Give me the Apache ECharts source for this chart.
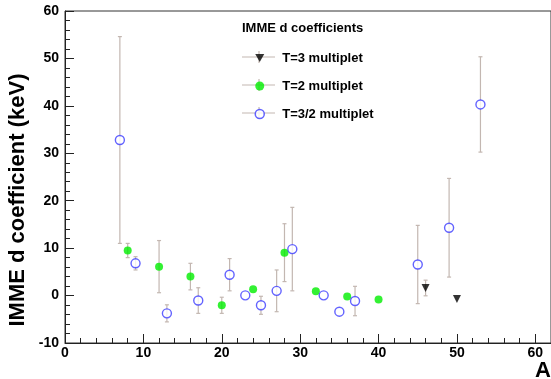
<!DOCTYPE html>
<html>
<head>
<meta charset="utf-8">
<script src="https://cdn.jsdelivr.net/npm/echarts@6/dist/echarts.min.js"></script>
<style>html,body{margin:0;padding:0;background:#fff}#c{width:551px;height:379px}</style>
</head>
<body>
<div id="c"></div>
<script>
// T=3 multiplet
var t3A = [46, 50];
var t3D = [1.6, -0.7];
var t3E = [1.65, 0];
// T=2 multiplet
var t2A = [8, 12, 16, 20, 24, 28, 32, 36, 40];
var t2D = [9.5, 6.1, 4.0, -2.05, 1.35, 9.05, 0.9, -0.2, -0.85];
var t2E = [1.5, 5.5, 2.8, 1.7, 0, 6.1, 0, 0, 0];
// T=3/2 multiplet
var t32A = [7, 9, 13, 17, 21, 23, 25, 27, 29, 33, 35, 37, 45, 49, 53];
var t32D = [32.8, 6.8, -3.75, -1.05, 4.4, 0.05, -2.05, 1.0, 9.8, 0.05, -3.4, -1.15, 6.55, 14.3, 40.3];
var t32E = [21.8, 1.4, 1.8, 2.7, 3.4, 0, 1.9, 4.4, 8.8, 0, 0, 3.1, 8.25, 10.4, 10.05];

var xMajorTicks = [0, 10, 20, 30, 40, 50, 60];
var xMinorTicks = [2, 4, 6, 8, 12, 14, 16, 18, 22, 24, 26, 28, 32, 34, 36, 38, 42, 44, 46, 48, 52, 54, 56, 58, 62];
var seriesNames = ['T=3 multiplet', 'T=2 multiplet', 'T=3/2 multiplet'];

function pts(a, d) { return a.map(function (x, i) { return [x, d[i]]; }); }
function errs(a, d, e) { return a.map(function (x, i) { return [x, d[i], e[i]]; }); }

var ERR = '#c3b7b1';
var FONT = 'Liberation Sans';

function errRender(params, api) {
  var x = api.value(0), y = api.value(1), e = api.value(2);
  if (!(e > 0)) return null;
  var t = api.coord([x, y + e]), b = api.coord([x, y - e]);
  var st = { stroke: ERR, lineWidth: 1.2 };
  return {
    type: 'group',
    children: [
      { type: 'line', shape: { x1: t[0], y1: t[1], x2: b[0], y2: b[1] }, style: st },
      { type: 'line', shape: { x1: t[0] - 2, y1: t[1], x2: t[0] + 2, y2: t[1] }, style: st },
      { type: 'line', shape: { x1: b[0] - 2, y1: b[1], x2: b[0] + 2, y2: b[1] }, style: st }
    ]
  };
}

var allErr = errs(t3A, t3D, t3E).concat(errs(t2A, t2D, t2E), errs(t32A, t32D, t32E));

var legendRows = [57, 85, 113];
var legendGraphics = [];
legendRows.forEach(function (y) {
  legendGraphics.push({ type: 'line', shape: { x1: 242, y1: y, x2: 275, y2: y }, style: { stroke: ERR, lineWidth: 1.2 }, z: 0 });
  legendGraphics.push({ type: 'line', shape: { x1: 259, y1: y - 6, x2: 259, y2: y + 6 }, style: { stroke: ERR, lineWidth: 1.2 }, z: 0 });
});

var chart = echarts.init(document.getElementById('c'));
chart.setOption({
  animation: false,
  backgroundColor: '#fff',
  grid: { left: 65, top: 11, width: 487, height: 332, show: true, borderColor: '#333', borderWidth: 1, backgroundColor: 'transparent' },
  xAxis: [{
    type: 'value', min: 0, max: 62, interval: 10, position: 'bottom',
    axisLine: { onZero: false, lineStyle: { color: '#222', width: 1 } },
    axisTick: { inside: true, length: 9, customValues: xMajorTicks, lineStyle: { color: '#222' } },
    axisLabel: { customValues: xMajorTicks, color: '#000', fontFamily: FONT, fontWeight: 'bold', fontSize: 14, margin: 3 },
    splitLine: { show: false }
  }, {
    type: 'value', min: 0, max: 62, position: 'bottom', gridIndex: 0,
    axisLine: { show: false, onZero: false },
    axisTick: { inside: true, length: 5, customValues: xMinorTicks, lineStyle: { color: '#222' } },
    axisLabel: { show: false },
    splitLine: { show: false }
  }],
  yAxis: {
    type: 'value', min: -10, max: 60, interval: 10,
    axisLine: { show: true, onZero: false, lineStyle: { color: '#222', width: 1 } },
    axisTick: { show: true, inside: true, length: 9, lineStyle: { color: '#222' } },
    minorTick: { show: true, splitNumber: 5, length: 5, lineStyle: { color: '#222' } },
    axisLabel: { color: '#000', fontFamily: FONT, fontWeight: 'bold', fontSize: 14, margin: 6 },
    splitLine: { show: false }
  },
  legend: {
    orient: 'vertical', left: 249.5, top: 46, itemWidth: 9, itemHeight: 9, itemGap: 14,
    textStyle: { fontFamily: FONT, fontWeight: 'bold', fontSize: 13, color: '#000', lineHeight: 14, padding: [0, 0, 0, 13] },
    data: [
      { name: seriesNames[0], icon: 'path://M0,0 L10,0 L5,9 Z', itemStyle: { color: '#000' } },
      { name: seriesNames[1], icon: 'circle', itemStyle: { color: '#00ee00' } },
      { name: seriesNames[2], icon: 'circle', itemStyle: { color: '#fff', borderColor: '#3c3cff', borderWidth: 1.5 } }
    ]
  },
  graphic: [
    { type: 'text', left: 242, top: 22, style: { text: 'IMME d coefficients', font: 'bold 13px "Liberation Sans"', fill: '#000' } },
    { type: 'text', x: 18, y: 200, rotation: Math.PI / 2, style: { text: 'IMME d coefficient (keV)', font: 'bold 22px "Liberation Sans"', fill: '#000', align: 'center', verticalAlign: 'middle' } },
    { type: 'text', x: 543, y: 371, style: { text: 'A', font: 'bold 22px "Liberation Sans"', fill: '#000', align: 'center', verticalAlign: 'middle' } }
  ].concat(legendGraphics),
  series: [
    { type: 'custom', name: 'errors', renderItem: errRender, data: allErr, z: 1, silent: true },
    { type: 'scatter', name: seriesNames[0], data: pts(t3A, t3D), symbol: 'triangle', symbolRotate: 180, symbolSize: 8, itemStyle: { color: '#000' }, z: 3 },
    { type: 'scatter', name: seriesNames[1], data: pts(t2A, t2D), symbol: 'circle', symbolSize: 8, itemStyle: { color: '#00ee00' }, z: 3 },
    { type: 'scatter', name: seriesNames[2], data: pts(t32A, t32D), symbol: 'circle', symbolSize: 9, itemStyle: { color: '#fff', borderColor: '#3c3cff', borderWidth: 1.4 }, z: 3 }
  ]
});
</script>
</body>
</html>
